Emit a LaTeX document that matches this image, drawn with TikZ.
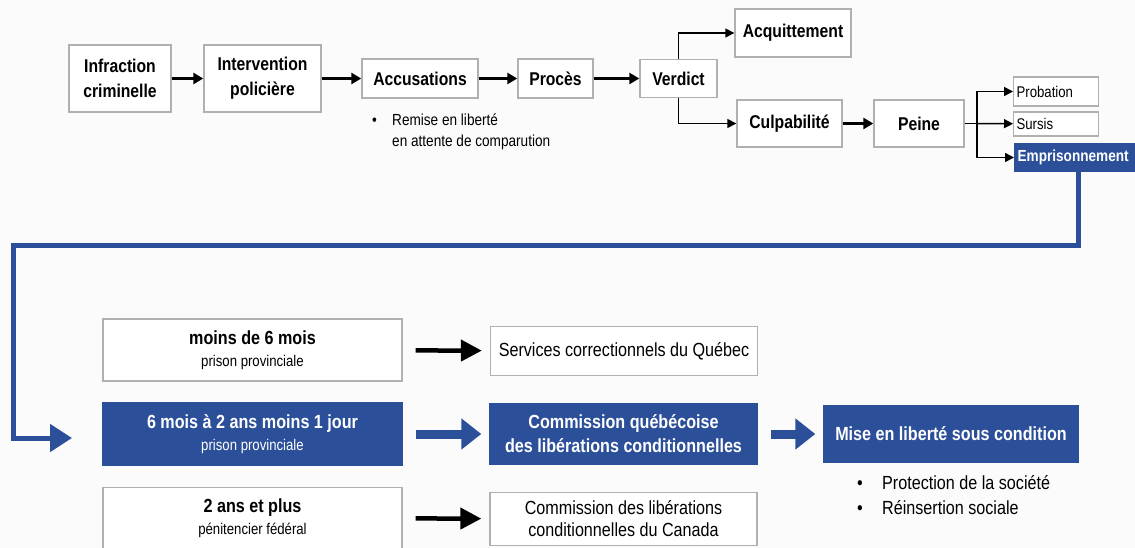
\documentclass[tikz,border=0pt]{standalone}
\usepackage{fontspec}
\setmainfont{Liberation Sans}[FakeStretch=0.85]
\usetikzlibrary{arrows.meta}
\definecolor{justiceblue}{RGB}{44,79,154}
\definecolor{boxgray}{RGB}{176,176,176}
\definecolor{paper}{RGB}{251,251,251}
\newcommand{\seatline}[1]{{\fontsize{15.5}{18}\selectfont\mdseries #1}}

\begin{document}
\begin{tikzpicture}[x=1pt,y=-1pt,
        stage/.style={rectangle,draw=boxgray,fill=white,line width=1.4pt,inner sep=2pt,align=center,font=\fontsize{18.5}{25}\selectfont\bfseries},
        option/.style={rectangle,draw=boxgray,fill=white,line width=1.2pt,inner sep=3pt,align=left,anchor=west,font=\fontsize{15.5}{18}\selectfont},
        track/.style={rectangle,draw=boxgray,fill=white,line width=1.4pt,align=center,minimum width=299pt,minimum height=62pt,font=\fontsize{19}{22}\selectfont\bfseries},
        office/.style={rectangle,draw=boxgray,fill=white,line width=1.4pt,align=center,minimum width=267pt,font=\fontsize{19}{22}\selectfont},
        chosen/.style={draw=justiceblue,fill=justiceblue,text=white},
        note/.style={align=left,inner sep=0pt,anchor=west},
        flow/.style={draw,line width=2.6pt,-{Triangle[width=11pt,length=10pt]}},
        branch/.style={draw,line width=1.5pt,-{Triangle[width=9pt,length=9pt]}},
        bigflow/.style={draw,line width=4.5pt,-{Triangle[width=21pt,length=21pt]},shorten <=13pt,shorten >=8pt},
        blueflow/.style={draw=justiceblue,line width=9pt,-{Triangle[width=30pt,length=20pt]},shorten <=13pt,shorten >=8pt},
        intake/.style={draw=justiceblue,line width=5pt,-{Triangle[width=27pt,length=22pt]}},
      ]
      \fill[paper] (0,0) rectangle (1135,548);
      \useasboundingbox (0,0) rectangle (1135,548);
%
      \node[stage,minimum width=102pt,minimum height=67pt] at (120,78.5) (infr) {Infraction\\criminelle};
      \node[stage,minimum width=117pt,minimum height=67pt] at (262.5,78.5) (interv) {Intervention\\policière};
      \node[stage,minimum width=116pt,minimum height=39pt] at (420,78.5) (accus) {Accusations};
      \node[stage,minimum width=75pt,minimum height=39pt] at (555.5,78.5) (proces) {Procès};
      \node[stage,minimum width=77pt,minimum height=38pt] at (678.5,78.5) (verdict) {Verdict};
      \node[note,font=\fontsize{16}{21}\selectfont] at (372,131.5) (release) {\makebox[20pt][l]{\textbullet}Remise en liberté\\\hspace*{20pt}en attente de comparution};
%
      \node[stage,minimum width=116pt,minimum height=48pt] at (793,33) (acquit) {Acquittement};
      \node[stage,minimum width=105pt,minimum height=47pt] at (789.5,123.5) (culpa) {Culpabilité};
      \node[stage,minimum width=90pt,minimum height=47pt] at (919,123.5) (peine) {Peine};
      \coordinate (fork) at (977,123.5);
%
      \node[option,text width=79pt,minimum height=29pt] at (1013,91.5) (probation) {Probation};
      \node[option,text width=79pt,minimum height=24pt] at (1013,124) (sursis) {Sursis};
      \node[option,chosen,text width=115pt,minimum height=27pt,font=\fontsize{16}{18}\selectfont\bfseries] at (1014,157.5) (prison) {Emprisonnement};
%
      \coordinate (bend) at (13,245);
      \coordinate (entry) at (72,438);
%
      \node[track] at (252.5,350) (short) {moins de 6 mois\\\seatline{prison provinciale}};
      \node[track,chosen] at (252.5,434) (middle) {6 mois à 2 ans moins 1 jour\\\seatline{prison provinciale}};
      \node[track,minimum height=61pt] at (252.5,518) (long) {2 ans et plus\\\seatline{pénitencier fédéral}};
%
      \node[office,minimum height=49pt] at (624,351) (services) {Services correctionnels du Québec};
      \node[office,chosen,minimum height=61pt,font=\fontsize{19}{24}\selectfont\bfseries] at (623.5,434) (cqlc) {Commission québécoise\\des libérations conditionnelles};
      \node[office,minimum height=53pt] at (623.5,519) (clcc) {Commission des libérations\\conditionnelles du Canada};
%
      \node[stage,chosen,minimum width=254pt,minimum height=57pt,font=\fontsize{19}{22}\selectfont\bfseries] at (951,434) (parole) {Mise en liberté sous condition};
      \node[note,font=\fontsize{19}{25}\selectfont] at (857,495.5) (aims) {\makebox[25pt][l]{\textbullet}Protection de la société\\\makebox[25pt][l]{\textbullet}Réinsertion sociale};
%
      \path[flow] (infr) -- (interv);
      \path[flow] (interv) -- (accus);
      \path[flow] (accus) -- (proces);
      \path[flow] (proces) -- (verdict);
      \path[branch] (verdict.north) |- (acquit);
      \path[branch] (verdict.south) |- (culpa);
      \path[flow] (culpa) -- (peine);
      \path[draw,line width=1.5pt] (peine) -- (fork);
      \path[branch] (fork) |- (probation);
      \path[branch] (fork) -- (sursis);
      \path[branch] (fork) |- (prison);
%
      \path[intake] ([xshift=3pt]prison.south) |- (bend) |- (entry);
      \path[bigflow] (short) -- (services);
      \path[blueflow] (middle) -- (cqlc);
      \path[bigflow] (long) -- (clcc);
      \path[blueflow] (cqlc) -- (parole);
    \end{tikzpicture}
\end{document}
